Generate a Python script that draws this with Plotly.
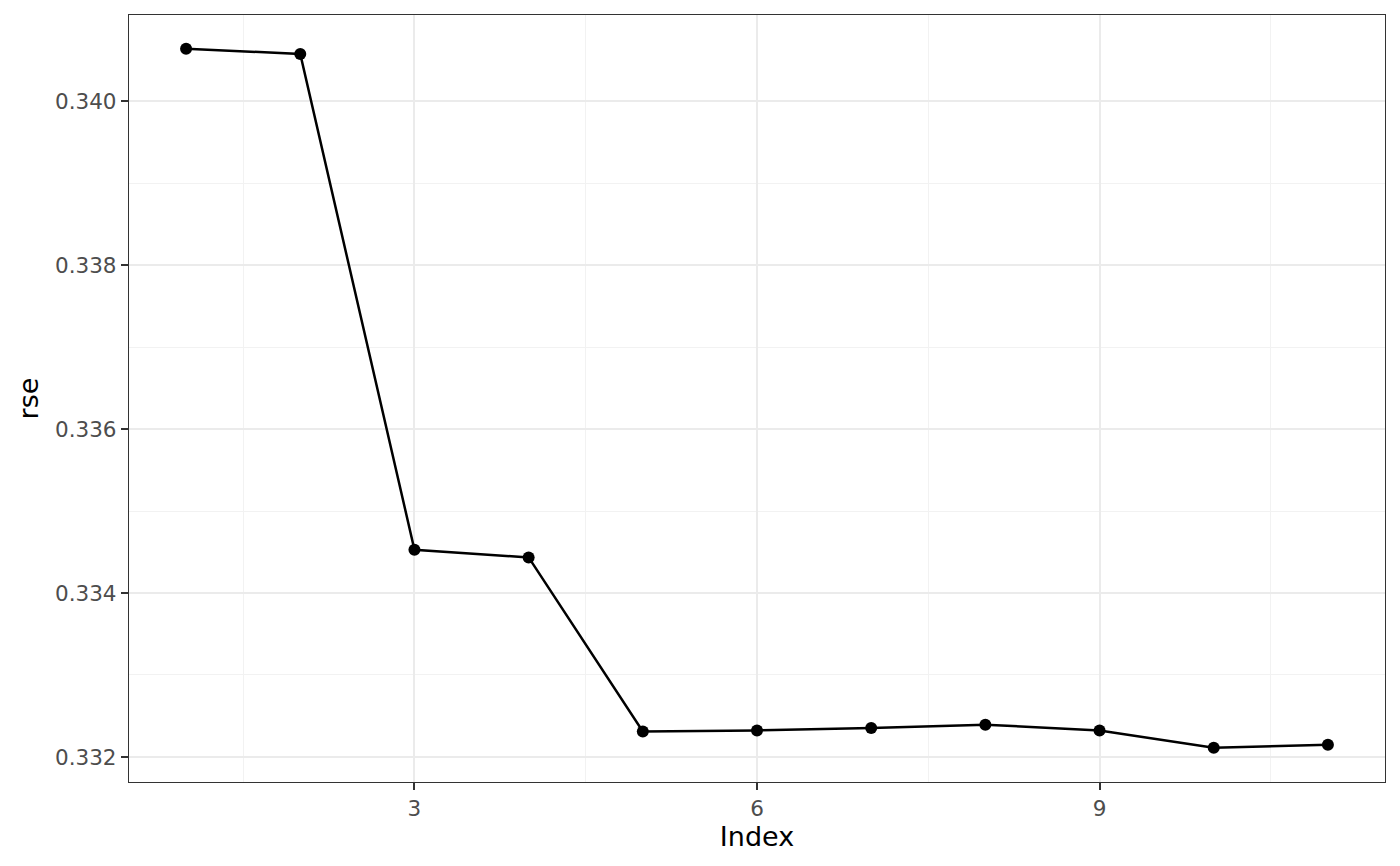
import plotly.graph_objects as go

index = [1, 2, 3, 4, 5, 6, 7, 8, 9, 10, 11]
rse = [0.340638, 0.340573, 0.334528, 0.334434, 0.332312, 0.332324,
       0.332354, 0.332394, 0.332324, 0.332113, 0.332150]

x_ticks = [3, 6, 9]
x_minor = [1.5, 4.5, 7.5, 10.5]
y_ticks = [0.332, 0.334, 0.336, 0.338, 0.340]
y_minor = [0.333, 0.335, 0.337, 0.339]

fig = go.Figure()
fig.add_trace(go.Scatter(
    x=index, y=rse, mode="lines+markers",
    line=dict(color="black", width=2.5),
    marker=dict(color="black", size=12),
    showlegend=False,
))

axis_common = dict(
    showline=True, mirror=True, linecolor="#333333", linewidth=1.3,
    ticks="outside", ticklen=7, tickcolor="#333333", tickwidth=2,
    gridcolor="#ebebeb", gridwidth=2, zeroline=False,
    tickfont=dict(family="DejaVu Sans", size=21.5, color="#4d4d4d"),
    title_font=dict(family="DejaVu Sans", size=27, color="black"),
)

fig.update_layout(
    width=1400, height=866,
    margin=dict(l=121, r=23, t=7, b=92),
    paper_bgcolor="white", plot_bgcolor="white",
    xaxis=dict(
        range=[0.5, 11.5], tickvals=x_ticks, ticktext=[str(v) for v in x_ticks],
        title=dict(text="Index", standoff=6),
        minor=dict(tickvals=x_minor, showgrid=True, gridcolor="#f2f2f2", gridwidth=1, ticks=""),
        **axis_common,
    ),
    yaxis=dict(
        range=[0.331695, 0.341049], tickvals=y_ticks,
        ticktext=[f"{v:.3f}" for v in y_ticks],
        title=dict(text="rse", standoff=8),
        minor=dict(tickvals=y_minor, showgrid=True, gridcolor="#f2f2f2", gridwidth=1, ticks=""),
        **axis_common,
    ),
)

fig.write_html("out.html")
